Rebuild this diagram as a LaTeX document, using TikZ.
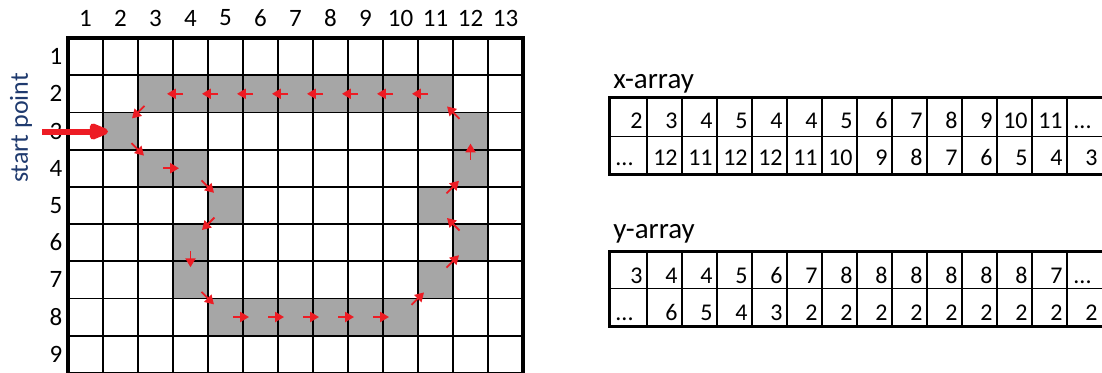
\documentclass[tikz,border=0pt]{standalone}
\usepackage{fontspec}
\setmainfont{Carlito}
\usetikzlibrary{arrows.meta}
\definecolor{pathred}{HTML}{ED1C24}
\definecolor{cellgray}{HTML}{A6A6A6}
\definecolor{startblue}{HTML}{1F3A6E}
\tikzset{
  cellfill/.style={fill=cellgray, draw=none},
  gridline/.style={line width=0.9pt, black},
  gridframe/.style={line width=1.7pt, black},
  gridlabel/.style={font=\fontsize{12.5}{14}\selectfont, inner sep=0pt, anchor=center},
  startlabel/.style={font=\fontsize{13}{15}\selectfont, text=startblue, inner sep=0pt, rotate=90},
  stepmark/.style={pathred, line width=0.9pt, -{Triangle[length=4.4pt,width=5pt]}},
  bigarrow/.style={pathred, line width=3pt, -{Triangle[round,length=12pt,width=8.5pt]}},
  tnum/.style={font=\fontsize{12}{14}\selectfont, inner sep=0pt, anchor=base east},
  tdots/.style={font=\fontsize{12}{14}\selectfont, inner sep=0pt, anchor=base west},
  tframe/.style={line width=1.5pt, black},
  tline/.style={line width=0.6pt, black},
  tlabel/.style={font=\fontsize{14.5}{16}\selectfont, inner sep=0pt, anchor=base west},
}
% x y dx dy : straight step mark
\newcommand\stepstraight[4]{\draw[stepmark] ({#1-10*#3},{#2-10*#4}) -- ({#1+6*#3},{#2+6*#4});}
% x y dx dy : diagonal step mark (dx,dy = +-1)
\newcommand\stepdiag[4]{\draw[stepmark] ({#1-6.5*#3},{#2-6.5*#4}) -- ({#1+6*#3},{#2+6*#4});}
\begin{document}
\begin{tikzpicture}[x=0.5pt,y=-0.5pt]
\useasboundingbox (0,0) rectangle (1102,372);
\clip (0,0) rectangle (1102,372);

% ---- shaded cells of the contour
\foreach \c/\r in {3/2,4/2,5/2,6/2,7/2,8/2,9/2,10/2,11/2,
                   2/3,12/3, 3/4,4/4,12/4, 5/5,11/5, 4/6,12/6, 4/7,11/7,
                   5/8,6/8,7/8,8/8,9/8,10/8}
  {\fill[cellfill] ({68+35*(\c-1)},{38+37.2*(\r-1)}) rectangle ++(35,37.2);}

% ---- grid
\foreach \i in {1,...,12} {\draw[gridline] ({68+35*\i},38) -- ({68+35*\i},380);}
\foreach \j in {1,...,9} {\draw[gridline] (68,{38+37.2*\j}) -- (523,{38+37.2*\j});}
\draw[gridframe] (68,380) -- (68,38) -- (523,38) -- (523,380);

% ---- labels
\foreach \i in {1,...,13} {\node[gridlabel] (col\i) at ({68+35*(\i-0.5)},18) {\i};}
\foreach \j in {1,...,9} {\node[gridlabel] (row\j) at (56,{38+37.2*(\j-0.5)}) {\j};}
\node[startlabel] (start) at (21,128) {start point};

% ---- start arrow
\coordinate (bigtail) at (42,131.5);
\coordinate (bigtip) at (108,131.5);
\draw[bigarrow] (bigtail) -- (bigtip);

% ---- path step marks
\stepdiag{138}{149.6}{1}{1}
\stepstraight{173}{168.2}{1}{0}
\stepdiag{208}{186.8}{1}{1}
\stepdiag{208}{224}{-1}{1}
\stepstraight{190.5}{261.2}{0}{1}
\stepdiag{208}{298.4}{1}{1}
\foreach \x in {243,278,313,348,383} {\stepstraight{\x}{317}{1}{0}}
\stepdiag{418}{298.4}{1}{-1}
\stepdiag{453}{261.2}{1}{-1}
\stepdiag{453}{224}{-1}{-1}
\stepdiag{453}{186.8}{1}{-1}
\stepstraight{470.5}{149.6}{0}{-1}
\stepdiag{453}{112.4}{-1}{-1}
\foreach \x in {418,383,348,313,278,243,208,173} {\stepstraight{\x}{93.8}{-1}{0}}
\stepdiag{138}{112.4}{-1}{1}

% ---- x-array table
\node[tlabel] (xlabel) at (613,88.5) {x-array};
\foreach \k in {0,...,12} {\draw[tline] ({647+35*\k},97.7) -- ({647+35*\k},174.3);}
\draw[tline] (609,136.7) -- (1106,136.7);
\draw[tframe] (609,97.7) rectangle (1106,174.3);
\foreach \v [count=\k from 0] in {2,3,4,5,4,4,5,6,7,8,9,10,11}
  {\node[tnum] (xa-a-\k) at ({647+35*\k-4},128) {\v};}
\node[tdots] (xa-a-13) at (1073,128) {...};
\node[tdots] (xa-b-0) at (615,165) {...};
\foreach \v [count=\k from 1] in {12,11,12,12,11,10,9,8,7,6,5,4,3}
  {\node[tnum] (xa-b-\k) at ({647+35*\k-4},165) {\v};}

% ---- y-array table
\node[tlabel] (ylabel) at (613,238.5) {y-array};
\foreach \k in {0,...,12} {\draw[tline] ({647+35*\k},251) -- ({647+35*\k},326);}
\draw[tline] (609,288.3) -- (1106,288.3);
\draw[tframe] (609,251) rectangle (1106,326);
\foreach \v [count=\k from 0] in {3,4,4,5,6,7,8,8,8,8,8,8,7}
  {\node[tnum] (ya-a-\k) at ({647+35*\k-4},283.5) {\v};}
\node[tdots] (ya-a-13) at (1073,283.5) {...};
\node[tdots] (ya-b-0) at (615,320) {...};
\foreach \v [count=\k from 1] in {6,5,4,3,2,2,2,2,2,2,2,2,2}
  {\node[tnum] (ya-b-\k) at ({647+35*\k-4},320) {\v};}
\end{tikzpicture}
\end{document}
